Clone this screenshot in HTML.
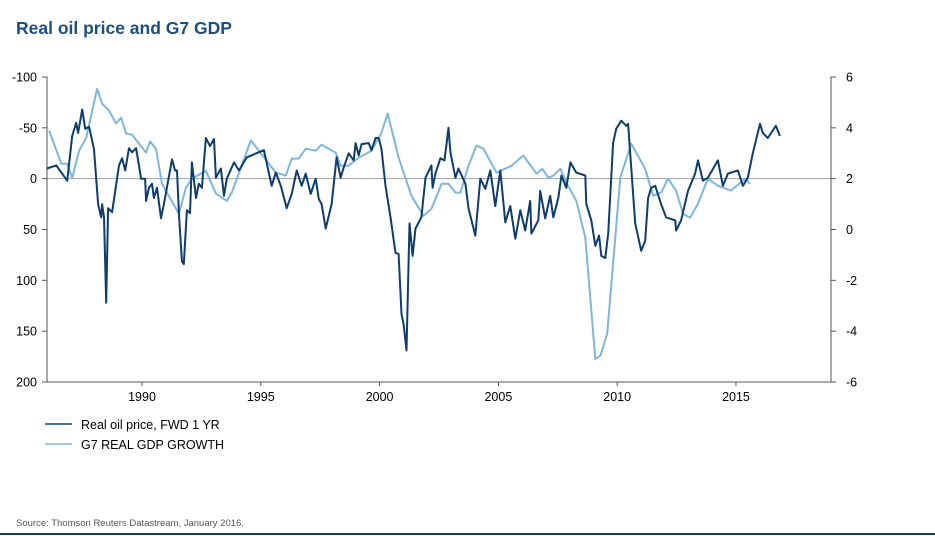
<!DOCTYPE html>
<html><head><meta charset="utf-8">
<style>
body{margin:0;background:#fff;width:935px;height:536px;overflow:hidden;font-family:"Liberation Sans",Arial,sans-serif;}
svg{display:block}
</style></head>
<body>
<svg id="chart" width="935" height="536">
<text x="16" y="34" font-size="17.5" font-weight="bold" fill="#1b4f7f">Real oil price and G7 GDP</text>
<g id="axes"></g>
<g id="series"></g>
<g>
<line x1="45" y1="424" x2="72" y2="424" stroke="#0f3d6b" stroke-width="1.5"/>
<text x="81" y="429" font-size="12.5" fill="#000">Real oil price, FWD 1 YR</text>
<line x1="45" y1="444" x2="72" y2="444" stroke="#7fb6dc" stroke-width="1.5"/>
<text x="81" y="449" font-size="12.5" fill="#000">G7 REAL GDP GROWTH</text>
</g>
<text x="16" y="526" font-size="9.5" fill="#555">Source: Thomson Reuters Datastream, January 2016.</text>
<line x1="0" y1="534" x2="935" y2="534" stroke="#1b3a5a" stroke-width="2"/>
</svg>
<script>
const xTicks=[1990,1995,2000,2005,2010,2015];
const leftTicks=[-100,-50,0,50,100,150,200];
const rightTicks=[6,4,2,0,-2,-4,-6];
const oilYears=[1986.0,1986.39,1986.85,1987.06,1987.23,1987.31,1987.48,1987.61,1987.77,1987.98,1988.15,1988.28,1988.32,1988.40,1988.49,1988.57,1988.74,1989.03,1989.16,1989.29,1989.45,1989.58,1989.75,1989.96,1990.13,1990.17,1990.29,1990.42,1990.50,1990.63,1990.80,1990.92,1991.26,1991.39,1991.47,1991.55,1991.68,1991.76,1991.89,1992.02,1992.10,1992.27,1992.39,1992.52,1992.69,1992.86,1993.03,1993.11,1993.32,1993.45,1993.57,1993.87,1994.08,1994.41,1994.62,1994.92,1995.13,1995.46,1995.63,1995.84,1996.09,1996.30,1996.51,1996.72,1996.89,1997.10,1997.31,1997.44,1997.56,1997.73,1997.98,1998.19,1998.36,1998.49,1998.70,1998.91,1998.99,1999.12,1999.24,1999.54,1999.66,1999.83,1999.96,2000.08,2000.25,2000.46,2000.67,2000.80,2000.92,2001.01,2001.13,2001.26,2001.39,2001.51,2001.76,2001.93,2002.18,2002.23,2002.35,2002.56,2002.73,2002.90,2002.98,2003.19,2003.32,2003.61,2003.74,2004.03,2004.24,2004.45,2004.66,2004.87,2005.08,2005.29,2005.50,2005.71,2005.92,2006.13,2006.34,2006.39,2006.68,2006.76,2006.97,2007.18,2007.31,2007.52,2007.65,2007.86,2008.03,2008.28,2008.66,2008.70,2008.91,2009.08,2009.24,2009.33,2009.50,2009.62,2009.83,2009.96,2010.17,2010.38,2010.46,2010.76,2011.01,2011.18,2011.30,2011.43,2011.60,2011.85,2012.06,2012.44,2012.48,2012.69,2012.98,2013.28,2013.40,2013.61,2013.82,2014.24,2014.45,2014.66,2015.08,2015.29,2015.50,2015.71,2016.01,2016.13,2016.34,2016.68,2016.85];
const oilValues=[-10,-13,2,-42,-55,-45,-68,-49,-51,-29,25,38,25,38,122,29,33,-13,-20,-8,-30,-26,-30,0,0,22,9,5,19,9,39,25,-19,-8,-8,34,81,84,31,34,-16,19,5,9,-40,-32,-39,-1,-10,17,0,-16,-8,-21,-23,-26,-28,7,-6,7,29,15,-8,7,-5,15,0,20,25,49,25,-21,-1,-11,-25,-18,-35,-23,-34,-35,-28,-40,-40,-29,7,38,73,74,133,143,169,44,76,49,38,-1,-13,9,-5,-20,-18,-50,-26,-1,-10,5,29,56,0,10,-8,27,-8,43,27,59,31,51,22,54,41,12,39,17,38,19,-3,9,-16,-6,-3,25,41,66,56,76,78,54,-35,-49,-57,-52,-54,44,71,61,19,9,7,25,38,41,51,41,12,-5,-18,2,-1,-18,7,-5,-8,7,-1,-25,-54,-45,-40,-52,-42];
const gdpYears=[1986.09,1986.60,1986.85,1987.06,1987.35,1987.65,1988.11,1988.32,1988.61,1988.91,1989.12,1989.33,1989.58,1990.17,1990.34,1990.59,1990.84,1991.55,1991.85,1992.10,1992.69,1993.11,1993.57,1993.78,1994.58,1994.92,1995.63,1996.05,1996.30,1996.60,1996.89,1997.31,1997.56,1998.15,1998.36,1998.70,1999.12,1999.66,2000.08,2000.34,2000.80,2001.34,2001.85,2002.18,2002.61,2002.90,2003.19,2003.40,2003.74,2004.08,2004.37,2004.92,2005.55,2006.05,2006.60,2006.85,2007.10,2007.31,2007.61,2007.86,2008.28,2008.66,2009.08,2009.29,2009.58,2010.13,2010.59,2011.18,2011.51,2011.85,2012.14,2012.48,2012.77,2013.07,2013.40,2013.82,2014.24,2014.79,2015.38,2015.59];
const gdpValues=[3.89,2.59,2.59,2.04,3.10,3.61,5.54,4.95,4.68,4.17,4.40,3.77,3.73,3.02,3.46,3.18,1.80,0.62,1.65,2.00,2.31,1.41,1.13,1.45,3.50,3.10,2.24,2.12,2.79,2.79,3.18,3.10,3.34,3.02,2.51,2.51,2.83,3.10,3.81,4.56,2.83,1.33,0.54,0.82,1.80,1.80,1.45,1.45,2.51,3.30,3.18,2.24,2.51,2.91,2.20,2.39,2.04,2.12,2.39,1.84,1.13,-0.32,-5.09,-4.97,-4.10,2.04,3.38,2.39,1.33,1.45,2.00,1.53,0.62,0.46,1.02,2.00,1.72,1.53,2.00,1.80];

const NS='http://www.w3.org/2000/svg';
const L=47,R=831,T=77,B=382;
const X0=1986,X1=2019;
function xS(v){return L+(v-X0)/(X1-X0)*(R-L);}
function yL(v){return T+(v-(-100))/300*(B-T);}
function yR(v){return T+(6-v)/12*(B-T);}
function mk(tag,attrs,parent,txt){const e=document.createElementNS(NS,tag);for(const k in attrs)e.setAttribute(k,attrs[k]);if(txt!==undefined)e.textContent=txt;parent.appendChild(e);return e;}
const ax=document.getElementById('axes');
let e;
e=mk('line',{x1:L,y1:yL(0),x2:R,y2:yL(0),stroke:'#a0a0a0','stroke-width':1},ax);


e=mk('path',{d:`M${L-4},${T}H${L}V${B}H${R}V${T}H${R+4}`,fill:'none',stroke:'#555','stroke-width':1},ax);


leftTicks.forEach(v=>{const y=yL(v);
 mk('line',{x1:L-5,y1:y,x2:L,y2:y,stroke:'#555'},ax);
 e=mk('text',{x:L-10,y:y+4.5,'text-anchor':'end','font-size':12.5,fill:'#000'},ax,String(v));
 
 });
rightTicks.forEach(v=>{const y=yR(v);
 mk('line',{x1:R,y1:y,x2:R+5,y2:y,stroke:'#555'},ax);
 e=mk('text',{x:R+15,y:y+4.5,'font-size':12.5,fill:'#000'},ax,String(v));
 
 });
xTicks.forEach(v=>{const x=xS(v);
 mk('line',{x1:x,y1:B,x2:x,y2:B+4,stroke:'#555'},ax);
 e=mk('text',{x:x,y:B+19,'text-anchor':'middle','font-size':12.5,fill:'#000'},ax,String(v));
 
 });
const sg=document.getElementById('series');
const gp=gdpYears.map((t,i)=>`${xS(t).toFixed(1)},${yR(gdpValues[i]).toFixed(1)}`).join(' ');
e=mk('polyline',{points:gp,fill:'none',stroke:'#7fb6dc','stroke-width':2,'stroke-linejoin':'round'},sg);


const op=oilYears.map((t,i)=>`${xS(t).toFixed(1)},${yL(oilValues[i]).toFixed(1)}`).join(' ');
e=mk('polyline',{points:op,fill:'none',stroke:'#0f3d6b','stroke-width':2,'stroke-linejoin':'round'},sg);


</script>
</body></html>
